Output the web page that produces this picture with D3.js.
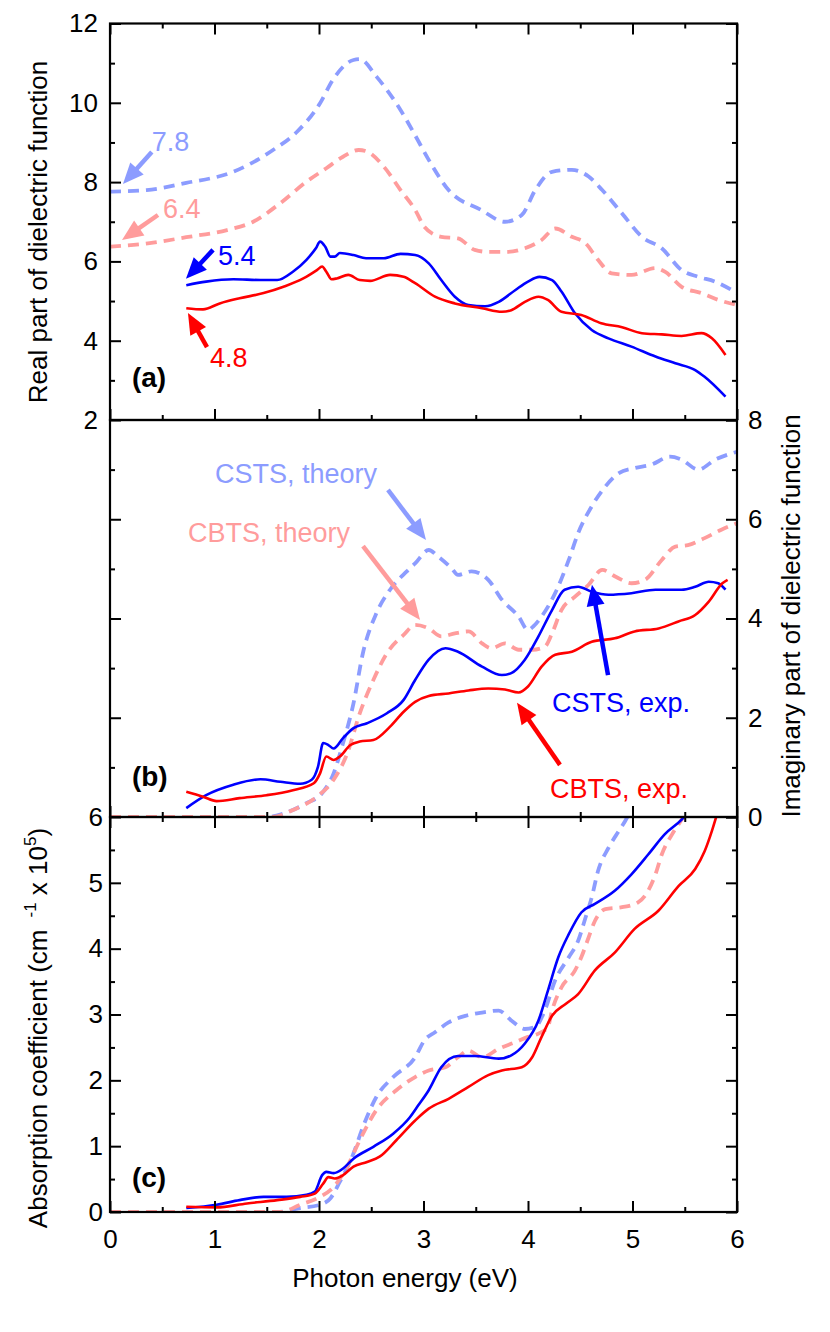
<!DOCTYPE html>
<html>
<head>
<meta charset="utf-8">
<script src="https://cdn.jsdelivr.net/npm/d3@7"></script>
<style>
  html, body { margin: 0; padding: 0; background: #fff; }
  svg { display: block; }
</style>
</head>
<body>
<script>
// ---------------- DATA ----------------
// Panel (a): real part of dielectric function  [photon energy (eV), value]
const aCstsTheory = [[0,7.76],[0.35,7.8],[0.73,7.98],[1.18,8.26],[1.56,8.81],[1.79,9.27],[2.01,9.99],[2.13,10.57],[2.33,11.08],[2.39,11.1],[2.55,10.66],[2.78,9.82],[2.92,9.18],[3.05,8.56],[3.24,7.8],[3.55,7.30],[3.78,7.0],[3.94,7.17],[4.07,7.8],[4.23,8.26],[4.42,8.31],[4.58,8.14],[4.71,7.8],[4.90,7.21],[5.09,6.62],[5.28,6.33],[5.47,5.78],[5.63,5.61],[5.79,5.49],[6.0,5.2]];
const aCbtsTheory = [[0,6.37],[0.38,6.46],[0.73,6.61],[1.12,6.79],[1.37,7.0],[1.63,7.47],[1.88,8.01],[2.07,8.35],[2.23,8.64],[2.38,8.81],[2.46,8.77],[2.62,8.39],[2.78,7.8],[2.92,7.30],[3.01,6.87],[3.17,6.62],[3.33,6.58],[3.49,6.29],[3.62,6.24],[3.81,6.24],[3.97,6.33],[4.13,6.54],[4.26,6.83],[4.42,6.62],[4.55,6.46],[4.67,6.04],[4.80,5.70],[4.99,5.66],[5.22,5.83],[5.31,5.74],[5.47,5.36],[5.66,5.20],[5.82,5.03],[6.0,4.90]];
const aCstsExp = [[0.73,5.40],[0.92,5.49],[1.18,5.55],[1.44,5.53],[1.60,5.53],[1.75,5.74],[1.88,6.04],[1.97,6.33],[2.01,6.50],[2.06,6.37],[2.11,6.12],[2.15,6.12],[2.20,6.21],[2.33,6.16],[2.45,6.08],[2.62,6.08],[2.78,6.19],[2.92,6.16],[3.05,5.95],[3.17,5.53],[3.30,5.11],[3.43,4.90],[3.59,4.87],[3.72,4.98],[3.88,5.28],[4.00,5.49],[4.11,5.61],[4.23,5.53],[4.32,5.24],[4.45,4.69],[4.61,4.27],[4.77,4.06],[4.99,3.85],[5.22,3.60],[5.41,3.43],[5.60,3.26],[5.69,3.09],[5.89,2.59]];
const aCbtsExp = [[0.73,4.82],[0.89,4.79],[1.05,4.94],[1.24,5.07],[1.47,5.20],[1.66,5.36],[1.85,5.57],[1.98,5.78],[2.03,5.87],[2.07,5.74],[2.12,5.55],[2.17,5.57],[2.28,5.66],[2.39,5.53],[2.49,5.51],[2.68,5.66],[2.81,5.61],[2.92,5.45],[3.11,5.11],[3.30,4.94],[3.56,4.82],[3.75,4.73],[3.84,4.77],[3.97,4.98],[4.10,5.11],[4.19,5.03],[4.32,4.73],[4.51,4.65],[4.70,4.44],[4.90,4.34],[5.09,4.19],[5.28,4.16],[5.47,4.12],[5.66,4.19],[5.76,4.06],[5.89,3.64]];

// Panel (b): imaginary part of dielectric function
const bCstsTheory = [[0,0],[1.5,0],[1.66,0.07],[1.88,0.28],[2.03,0.48],[2.14,0.88],[2.23,1.49],[2.33,2.29],[2.42,3.30],[2.55,4.11],[2.68,4.58],[2.84,4.95],[2.92,5.11],[3.05,5.38],[3.14,5.25],[3.27,5.01],[3.33,4.88],[3.46,4.95],[3.62,4.78],[3.75,4.38],[3.91,4.04],[4.00,3.77],[4.05,3.84],[4.13,4.04],[4.26,4.51],[4.39,5.18],[4.48,5.72],[4.61,6.26],[4.74,6.66],[4.87,6.93],[5.02,7.03],[5.18,7.10],[5.36,7.26],[5.47,7.20],[5.63,7.00],[5.79,7.20],[6.0,7.36]];
const bCbtsTheory = [[0,0],[1.56,0],[1.75,0.14],[1.98,0.41],[2.14,0.75],[2.27,1.28],[2.39,2.09],[2.52,2.76],[2.65,3.30],[2.81,3.67],[2.92,3.87],[3.05,3.80],[3.17,3.64],[3.30,3.70],[3.43,3.74],[3.56,3.50],[3.65,3.40],[3.78,3.50],[3.91,3.37],[4.04,3.37],[4.16,3.43],[4.23,3.70],[4.32,4.17],[4.45,4.44],[4.58,4.68],[4.71,4.98],[4.84,4.84],[4.99,4.71],[5.12,4.78],[5.28,5.18],[5.41,5.45],[5.53,5.48],[5.69,5.62],[5.85,5.79],[6.0,5.92]];
const bCstsExp = [[0.73,0.18],[0.92,0.44],[1.18,0.65],[1.44,0.76],[1.63,0.71],[1.82,0.67],[1.93,0.75],[1.99,1.01],[2.04,1.49],[2.09,1.45],[2.14,1.38],[2.23,1.59],[2.33,1.79],[2.46,1.89],[2.65,2.09],[2.81,2.36],[2.92,2.76],[3.05,3.17],[3.21,3.40],[3.33,3.33],[3.56,3.03],[3.75,2.86],[3.84,2.90],[3.97,3.17],[4.10,3.64],[4.23,4.17],[4.35,4.58],[4.48,4.64],[4.61,4.54],[4.77,4.48],[4.99,4.51],[5.22,4.58],[5.47,4.58],[5.60,4.64],[5.73,4.74],[5.82,4.71],[5.89,4.58]];
const bCbtsExp = [[0.73,0.51],[0.89,0.41],[1.02,0.32],[1.24,0.38],[1.50,0.44],[1.75,0.54],[1.95,0.68],[2.01,0.88],[2.07,1.22],[2.14,1.15],[2.20,1.22],[2.30,1.45],[2.39,1.52],[2.52,1.55],[2.68,1.82],[2.81,2.12],[2.92,2.32],[3.05,2.44],[3.24,2.49],[3.43,2.55],[3.62,2.59],[3.78,2.57],[3.91,2.51],[4.00,2.63],[4.13,3.03],[4.26,3.27],[4.42,3.33],[4.61,3.53],[4.83,3.60],[5.02,3.74],[5.25,3.80],[5.44,3.94],[5.60,4.07],[5.73,4.34],[5.86,4.71],[5.91,4.78]];

// Panel (c): absorption coefficient (x 10^5 cm^-1)
const cCstsTheory = [[0,0],[1.6,0],[1.82,0.06],[2.01,0.11],[2.11,0.21],[2.20,0.46],[2.33,0.89],[2.42,1.29],[2.55,1.75],[2.71,2.05],[2.92,2.35],[3.01,2.61],[3.11,2.73],[3.24,2.88],[3.40,2.98],[3.56,3.03],[3.72,3.06],[3.84,2.91],[3.97,2.78],[4.07,2.81],[4.16,3.06],[4.26,3.52],[4.39,3.87],[4.48,4.12],[4.55,4.47],[4.61,4.78],[4.67,5.18],[4.77,5.53],[4.87,5.79],[4.93,5.94],[5.0,6.15]];
const cCbtsTheory = [[0,0],[1.63,0],[1.82,0.11],[2.01,0.23],[2.14,0.38],[2.27,0.69],[2.39,1.09],[2.55,1.55],[2.74,1.85],[2.92,2.05],[3.05,2.15],[3.21,2.20],[3.33,2.35],[3.43,2.45],[3.56,2.35],[3.72,2.48],[3.88,2.58],[4.00,2.66],[4.10,2.71],[4.19,2.81],[4.23,3.06],[4.32,3.41],[4.45,3.67],[4.51,3.87],[4.58,4.17],[4.64,4.42],[4.74,4.60],[4.90,4.63],[5.05,4.70],[5.15,4.88],[5.22,5.13],[5.28,5.43],[5.38,5.74],[5.47,5.96],[5.52,6.1]];
const cCstsExp = [[0.73,0.06],[1.02,0.11],[1.24,0.18],[1.47,0.23],[1.69,0.23],[1.88,0.26],[1.96,0.31],[2.03,0.56],[2.07,0.61],[2.14,0.59],[2.23,0.66],[2.33,0.81],[2.52,0.99],[2.71,1.19],[2.87,1.44],[2.95,1.62],[3.05,1.85],[3.17,2.20],[3.33,2.37],[3.49,2.37],[3.72,2.33],[3.84,2.38],[3.97,2.56],[4.10,2.91],[4.19,3.36],[4.29,3.87],[4.39,4.22],[4.51,4.55],[4.64,4.68],[4.83,4.88],[4.99,5.13],[5.15,5.43],[5.31,5.74],[5.47,5.96],[5.52,6.05]];
const cCbtsExp = [[0.73,0.08],[1.02,0.07],[1.31,0.13],[1.60,0.18],[1.82,0.23],[1.96,0.28],[2.04,0.43],[2.09,0.53],[2.15,0.51],[2.23,0.56],[2.33,0.69],[2.46,0.76],[2.58,0.84],[2.74,1.09],[2.92,1.39],[3.05,1.57],[3.24,1.72],[3.43,1.90],[3.62,2.08],[3.75,2.15],[3.94,2.20],[4.04,2.35],[4.13,2.66],[4.23,2.98],[4.36,3.16],[4.48,3.31],[4.64,3.67],[4.83,3.94],[5.02,4.30],[5.25,4.58],[5.44,4.95],[5.60,5.21],[5.69,5.48],[5.76,5.79],[5.81,6.05]];

// Tick values / labels
const xMajor = [0,1,2,3,4,5,6];
const xMinor = [0.5,1.5,2.5,3.5,4.5,5.5];
const aMajor = [2,4,6,8,10,12];
const aMinor = [3,5,7,9,11];
const bMajor = [0,2,4,6,8];
const bMinor = [1,3,5,7];
const cMajor = [0,1,2,3,4,5,6];
const cMinor = [0.5,1.5,2.5,3.5,4.5,5.5];

// Annotations: [text, textE, textV, tailE, tailV, tipE, tipV, color]
const annA = [
  ["7.8", 0.40, 8.78, 0.40, 8.76, 0.124, 7.95, "lightblue"],
  ["6.4", 0.507, 7.09, 0.459, 7.17, 0.115, 6.54, "pink"],
  ["5.4", 1.033, 5.91, 0.986, 6.29, 0.727, 5.56, "blue"],
  ["4.8", 0.957, 3.34, 0.928, 3.84, 0.746, 4.70, "red"]
];
const annB = [
  ["CSTS, theory", 1.005, 6.73, 2.66, 6.59, 3.024, 5.58, "lightblue"],
  ["CBTS, theory", 0.746, 5.54, 2.421, 5.46, 2.967, 3.97, "pink"],
  ["CSTS, exp.", 4.23, 2.12, 4.766, 2.86, 4.612, 4.68, "blue"],
  ["CBTS, exp.", 4.21, 0.38, 4.306, 1.05, 3.895, 2.30, "red"]
];

// ---------------- DRAWING ----------------
const W = 830, H = 1332;
const FONT = "'Liberation Sans', Arial, Helvetica, sans-serif";
const COL = { blue: "#0000ff", red: "#ff0000", lightblue: "#8c9cff", pink: "#ff9c9c" };

const svg = d3.select("body").append("svg").attr("width", W).attr("height", H)
  .attr("font-family", FONT);
svg.append("rect").attr("width", W).attr("height", H).attr("fill", "#fff");

const L = 110, R = 737;
const x = d3.scaleLinear([0, 6], [L, R]);
const yA = d3.scaleLinear([2, 12], [420, 23.5]);
const yB = d3.scaleLinear([0, 8], [817, 420]);
const yC = d3.scaleLinear([0, 6], [1212, 817]);

const defs = svg.append("defs");
function clip(id, y) {
  const r = y.range();
  defs.append("clipPath").attr("id", id).append("rect")
    .attr("x", L).attr("y", Math.min(...r)).attr("width", R - L).attr("height", Math.abs(r[0] - r[1]));
}
clip("clipA", yA); clip("clipB", yB); clip("clipC", yC);

function series(clipId, y, data, color, dashed) {
  const line = d3.line().x(d => x(d[0])).y(d => y(d[1])).curve(d3.curveMonotoneX);
  svg.append("path").datum(data)
    .attr("clip-path", `url(#${clipId})`)
    .attr("d", line)
    .attr("fill", "none")
    .attr("stroke", COL[color])
    .attr("stroke-width", dashed ? 3.8 : 2.6)
    .attr("stroke-dasharray", dashed ? "11,7" : null)
    .attr("stroke-linejoin", "round");
}

// theory (dashed) first, then experiment (solid)
series("clipA", yA, aCstsTheory, "lightblue", true);
series("clipA", yA, aCbtsTheory, "pink", true);
series("clipA", yA, aCstsExp, "blue", false);
series("clipA", yA, aCbtsExp, "red", false);

series("clipB", yB, bCstsTheory, "lightblue", true);
series("clipB", yB, bCbtsTheory, "pink", true);
series("clipB", yB, bCstsExp, "blue", false);
series("clipB", yB, bCbtsExp, "red", false);

series("clipC", yC, cCstsTheory, "lightblue", true);
series("clipC", yC, cCbtsTheory, "pink", true);
series("clipC", yC, cCstsExp, "blue", false);
series("clipC", yC, cCbtsExp, "red", false);

// ---- axes ----
function ax(gen, tx, ty, values, size, fmt, pad) {
  const a = gen.tickValues(values).tickSizeInner(-size).tickSizeOuter(0)
    .tickPadding(pad || 0).tickFormat(fmt || "");
  const g = svg.append("g").attr("transform", `translate(${tx},${ty})`).call(a);
  g.select(".domain").remove();
  g.selectAll("line").attr("stroke", "#000").attr("stroke-width", 2);
  g.selectAll("text").attr("font-family", FONT).attr("font-size", 26).attr("fill", "#000");
  return g;
}
const fmtD = d3.format("d");
// Panel a
ax(d3.axisLeft(yA), L, 0, aMajor, 11, fmtD, 12);
ax(d3.axisLeft(yA), L, 0, aMinor, 5);
ax(d3.axisRight(yA), R, 0, aMajor, 11);
ax(d3.axisRight(yA), R, 0, aMinor, 5);
ax(d3.axisTop(x), 0, yA(12), xMajor, 11);
ax(d3.axisTop(x), 0, yA(12), xMinor, 5);
ax(d3.axisBottom(x), 0, yA(2), xMajor, 11);
ax(d3.axisBottom(x), 0, yA(2), xMinor, 5);
// Panel b
ax(d3.axisLeft(yB), L, 0, [2,4,6], 11);
ax(d3.axisLeft(yB), L, 0, bMinor, 5);
ax(d3.axisRight(yB), R, 0, bMajor, 11, fmtD, 11);
ax(d3.axisRight(yB), R, 0, bMinor, 5);
ax(d3.axisBottom(x), 0, yB(0), xMajor, 11);
ax(d3.axisBottom(x), 0, yB(0), xMinor, 5);
// Panel c
ax(d3.axisTop(x), 0, yC(6), xMajor, 11);
ax(d3.axisTop(x), 0, yC(6), xMinor, 5);
ax(d3.axisLeft(yC), L, 0, cMajor, 11, fmtD, 7);
ax(d3.axisLeft(yC), L, 0, cMinor, 5);
ax(d3.axisRight(yC), R, 0, cMajor, 11);
ax(d3.axisRight(yC), R, 0, cMinor, 5);
ax(d3.axisBottom(x), 0, yC(0), xMajor, 11, fmtD, 18);
ax(d3.axisBottom(x), 0, yC(0), xMinor, 5);

// frames
[yA, yB, yC].forEach(y => {
  const r = y.range();
  svg.append("rect").attr("x", L).attr("y", Math.min(...r))
    .attr("width", R - L).attr("height", Math.abs(r[0] - r[1]))
    .attr("fill", "none").attr("stroke", "#000").attr("stroke-width", 2.2);
});

// ---- axis titles ----
svg.append("text").attr("transform", "translate(47,232) rotate(-90)")
  .attr("text-anchor", "middle").attr("font-size", 26).text("Real part of dielectric function");

svg.append("text").attr("transform", "translate(800,616) rotate(-90)")
  .attr("text-anchor", "middle").attr("font-size", 26).text("Imaginary part of dielectric function");

const tc = svg.append("text").attr("transform", "translate(47,1028) rotate(-90)")
  .attr("text-anchor", "middle").attr("font-size", 26);
tc.append("tspan").text("Absorption coefficient (cm");
tc.append("tspan").attr("dx", 12).attr("dy", -11).attr("font-size", 17).text("-1");
tc.append("tspan").attr("dy", 11).text(" x 10");
tc.append("tspan").attr("dy", -11).attr("font-size", 17).text("5");
tc.append("tspan").attr("dy", 11).text(")");

svg.append("text").attr("x", 405).attr("y", 1287).attr("text-anchor", "middle")
  .attr("font-size", 26).text("Photon energy (eV)");

// ---- panel labels ----
[["(a)", yA, 2.82], ["(b)", yB, 0.63], ["(c)", yC, 0.38]].forEach(([t, y, v]) => {
  svg.append("text").attr("x", x(0.21)).attr("y", y(v)).attr("font-size", 28)
    .attr("font-weight", "bold").text(t);
});

// ---- annotations ----
function arrow(x1, y1, x2, y2, color) {
  const dx = x2 - x1, dy = y2 - y1, len = Math.hypot(dx, dy);
  const ux = dx / len, uy = dy / len;
  const hl = 21, hw = 9;
  const bx = x2 - ux * hl, by = y2 - uy * hl;
  svg.append("line").attr("x1", x1).attr("y1", y1).attr("x2", bx + ux * 2).attr("y2", by + uy * 2)
    .attr("stroke", COL[color]).attr("stroke-width", 4.5);
  svg.append("path")
    .attr("d", `M${x2},${y2}L${bx - uy * hw},${by + ux * hw}L${bx + uy * hw},${by - ux * hw}Z`)
    .attr("fill", COL[color]);
}
function annotate(list, y) {
  list.forEach(([t, te, tv, ae, av, be, bv, c]) => {
    arrow(x(ae), y(av), x(be), y(bv), c);
    svg.append("text").attr("x", x(te)).attr("y", y(tv)).attr("font-size", 27)
      .attr("fill", COL[c]).text(t);
  });
}
annotate(annA, yA);
annotate(annB, yB);
</script>
</body>
</html>
